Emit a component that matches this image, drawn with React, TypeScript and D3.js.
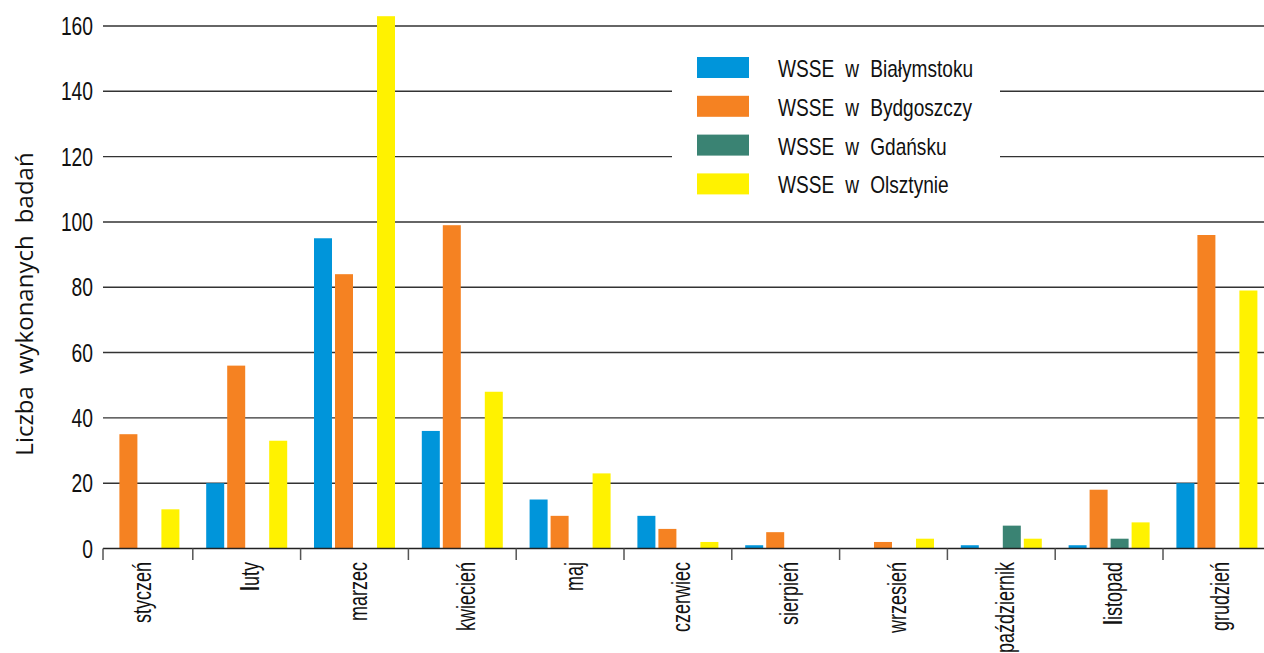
import React from "react";
import * as d3 from "d3";

const categories = ["styczeń", "luty", "marzec", "kwiecień", "maj", "czerwiec", "sierpień", "wrzesień", "październik", "listopad", "grudzień"];
const seriesNames = ["WSSE w Białymstoku", "WSSE w Bydgoszczy", "WSSE w Gdańsku", "WSSE w Olsztynie"];
const bialystok = [0, 20, 95, 36, 15, 10, 1, 0, 1, 1, 20];
const bydgoszcz = [35, 56, 84, 99, 10, 6, 5, 2, 0, 18, 96];
const gdansk = [0, 0, 0, 0, 0, 0, 0, 0, 7, 3, 0];
const olsztyn = [12, 33, 163, 48, 23, 2, 0, 3, 3, 8, 79];
const yTicks = [0, 20, 40, 60, 80, 100, 120, 140, 160];
const colors = ["#0095da", "#f58222", "#3a8373", "#fff200"];
const yTitle = "Liczba wykonanych badań";

const W = 1264;
const H = 653;
const SANS = "'Liberation Sans', Arial, sans-serif";

export default function App() {
  const series = [bialystok, bydgoszcz, gdansk, olsztyn];
  const x0 = d3.scaleBand<string>().domain(categories).range([85, 85 + 11 * 107.8]).paddingInner(0).paddingOuter(0);
  const x1 = d3.scaleBand<string>().domain(seriesNames).range([13.4, 13.4 + 81]).paddingInner(3 / 21).paddingOuter(0);
  const y = d3.scaleLinear().domain([0, 160]).range([548.5, 26]);
  const axisStart = 103;

  return (
    <svg width={W} height={H} style={{ position: "absolute", left: 0, top: 0, background: "#fff" }}>
      {/* gridlines */}
      {yTicks.filter((t) => t > 0).map((t) => (
        <line key={t} x1={axisStart} x2={W} y1={y(t)} y2={y(t)} stroke="#333" strokeWidth={1.4} />
      ))}
      {/* legend box background */}
      <rect x={672} y={45} width={328} height={163} fill="#fff" />
      {/* bars */}
      {categories.map((c, i) => (
        <g key={c} transform={`translate(${x0(c)},0)`}>
          {seriesNames.map((s, j) => {
            const v = series[j][i];
            if (!v) return null;
            return (
              <rect key={s} x={x1(s)} y={y(v)} width={x1.bandwidth()} height={y(0) - y(v)} fill={colors[j]} />
            );
          })}
        </g>
      ))}
      {/* x axis */}
      <line x1={axisStart} x2={W} y1={y(0)} y2={y(0)} stroke="#222" strokeWidth={1.6} />
      <line x1={axisStart} x2={axisStart} y1={y(0)} y2={y(0) + 11.5} stroke="#555" strokeWidth={1.5} />
      {categories.slice(1).map((c) => (
        <line key={c} x1={x0(c)} x2={x0(c)} y1={y(0)} y2={y(0) + 11.5} stroke="#555" strokeWidth={1.5} />
      ))}
      {/* category labels */}
      {categories.map((c) => {
        const cx = (x0(c) as number) + x0.bandwidth() / 2;
        const bold = c.startsWith("l");
        return (
          <text key={c} transform={`translate(${cx + 12.5},562) rotate(-90) scale(0.72,1)`} textAnchor="end" fontFamily={SANS} fontSize={25} fill="#111">
            {bold ? (<><tspan fontWeight="bold">l</tspan>{c.slice(1)}</>) : c}
          </text>
        );
      })}
      {/* y tick labels */}
      {yTicks.map((t) => (
        <text key={t} transform={`translate(93,${y(t)}) scale(0.77,1)`} dy="0.36em" textAnchor="end" fontFamily={SANS} fontSize={25} fill="#111">
          {t}
        </text>
      ))}
      {/* y title */}
      <text transform={`translate(32.5,304) rotate(-90)`} textAnchor="middle" fontFamily="'Open Sans', 'Noto Sans', sans-serif" fontSize={24} wordSpacing={6} fill="#111">
        {yTitle}
      </text>
      {/* legend */}
      {seriesNames.map((s, j) => (
        <g key={s} transform={`translate(697,${57 + j * 38.8})`}>
          <rect x={0} y={0} width={52} height={21} fill={colors[j]} />
          <text transform="translate(81,20) scale(0.83,1)" fontFamily={SANS} fontSize={23} wordSpacing={7} fill="#111">
            {s}
          </text>
        </g>
      ))}
    </svg>
  );
}
